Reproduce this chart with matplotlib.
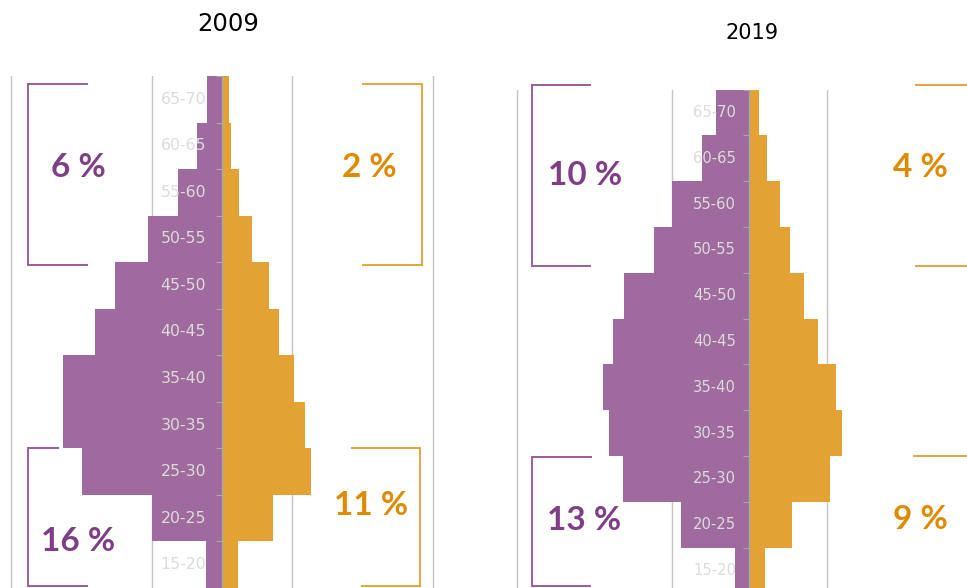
import matplotlib

matplotlib.use('Agg')
import matplotlib.pyplot as plt

# data (bottom group first) ######################################################
ages = ['15-20', '20-25', '25-30', '30-35', '35-40', '40-45',
        '45-50', '50-55', '55-60', '60-65', '65-70']

purple_2009 = [0.23, 0.99, 1.98, 2.25, 2.25, 1.80, 1.52, 1.05, 0.62, 0.35, 0.21]
orange_2009 = [0.22, 0.72, 1.26, 1.18, 1.02, 0.81, 0.66, 0.43, 0.24, 0.13, 0.10]

purple_2019 = [0.18, 0.88, 1.63, 1.81, 1.88, 1.75, 1.61, 1.22, 1.00, 0.61, 0.43]
orange_2019 = [0.20, 0.55, 1.05, 1.20, 1.12, 0.89, 0.71, 0.53, 0.40, 0.23, 0.13]

# share of old (50-70) and young (15-30) groups
shares_2009 = {'purple_old': '6 %', 'purple_young': '16 %', 'orange_old': '2 %', 'orange_young': '11 %'}
shares_2019 = {'purple_old': '10 %', 'purple_young': '13 %', 'orange_old': '4 %', 'orange_young': '9 %'}

# styles
PURPLE = '#9f6a9d'
ORANGE = '#e2a334'
PURPLE_TXT = '#7f3f87'
ORANGE_TXT = '#de8b00'
PURPLE_LINE = '#9c5d99'
ORANGE_LINE = '#e4a53c'
GRID = '#c4c4c4'
LABEL = '#dcdcdc'
FONT = ['Lato', 'DejaVu Sans']
FONT2 = ['DejaVu Sans']

W, H = 967, 588
fig = plt.figure(figsize=(W / 100, H / 100), dpi=100)


def pyramid(rect, xlim, ylim, purple, orange, label_dx, label_size, shares, layout):
    ax = fig.add_axes(rect)
    y = list(range(1, len(ages) + 1))
    ax.barh(y, [-v for v in purple], height=1.0, color=PURPLE, linewidth=0, zorder=1)
    ax.barh(y, orange, height=1.0, color=ORANGE, linewidth=0, zorder=1)

    for gx in (-3, -1, 1, 3):
        ax.axvline(gx, color=GRID, lw=1.0, zorder=0)

    # centre line with small ticks at group boundaries
    for s in ('top', 'right', 'bottom'):
        ax.spines[s].set_visible(False)
    ax.spines['left'].set_position(('data', 0))
    ax.spines['left'].set_color('#a9a9a9')
    ax.spines['left'].set_linewidth(1.0)
    ax.set_yticks([v + 0.5 for v in range(0, len(ages) + 1)])
    ax.set_yticklabels([])
    ax.tick_params(axis='y', length=4, width=0.8, color='#a9a9a9', direction='out')
    ax.set_xticks([])

    for yi, lab in zip(y, ages):
        ax.text(label_dx, yi, lab, ha='right', va='center', color=LABEL,
                fontsize=label_size, family=FONT2, zorder=3)

    ax.set_xlim(*xlim)
    ax.set_ylim(*ylim)

    # brackets
    for key, (xo, xi_top, xi_bot, yt, yb, tx, ty) in layout.items():
        col = PURPLE_LINE if key.startswith('purple') else ORANGE_LINE
        tcol = PURPLE_TXT if key.startswith('purple') else ORANGE_TXT
        ax.plot([xi_top, xo, xo, xi_bot], [yt, yt, yb, yb], color=col, lw=1.4,
                clip_on=False, solid_joinstyle='miter', zorder=2)
        ax.text(tx, ty, shares[key], ha='center', va='center', color=tcol,
                fontsize=24, fontweight='bold', family=FONT)
    return ax


# bracket layout: outer x, inner x (top), inner x (bottom), y top, y bottom, text x, text y
layout_2009 = {
    'purple_old': (-2.75, -1.92, -1.92, 11.32, 7.43, -2.04, 9.54),
    'purple_young': (-2.75, -2.33, -1.92, 3.50, 0.55, -2.04, 1.50),
    'orange_old': (2.83, 2.0, 2.0, 11.33, 7.45, 2.085, 9.54),
    'orange_young': (2.81, 1.85, 1.99, 3.51, 0.54, 2.11, 2.28),
}
layout_2019 = {
    'purple_old': (-2.80, -2.05, -2.05, 11.59, 7.64, -2.12, 9.63),
    'purple_young': (-2.80, -2.04, -2.05, 3.47, 0.66, -2.13, 2.10),
    'orange_old': (3.05, 2.15, 2.15, 11.61, 7.65, 2.21, 9.81),
    'orange_young': (3.05, 2.125, 2.125, 3.51, -0.5, 2.21, 2.11),
}

# left panel: x pixels 0..490, y pixels 76..588
pyramid([0, 0, 490 / W, 512 / H], (-222 / 70.5, 268 / 70.5), (0.5, 11.5),
        purple_2009, orange_2009, -16 / 70.5, 11.3, shares_2009, layout_2009)
# right panel: x pixels 500..967, y pixels 89.6..588
pyramid([500 / W, 0, 467 / W, 498.4 / H], (-249 / 77.5, 218 / 77.5), (11.5 - 498.4 / 45.8, 11.5),
        purple_2019, orange_2019, -13 / 77.5, 10.6, shares_2019, layout_2019)

fig.text(228 / W, 1 - 24 / H, '2009', ha='center', va='center', fontsize=17.5, family=FONT2, color='black')
fig.text(752 / W, 1 - 33 / H, '2019', ha='center', va='center', fontsize=15, family=FONT2, color='black')

fig.savefig('out.png', dpi=100)
